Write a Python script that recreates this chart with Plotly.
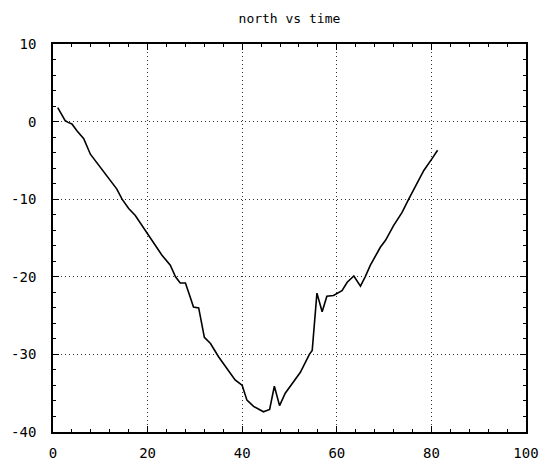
import plotly.graph_objects as go

# northward displacement sampled over time
time = [1.0, 1.7, 2.6, 3.2, 4.0, 5.1, 6.5, 7.9, 10.0, 11.8, 13.5, 14.6, 16.0, 17.4,
        18.8, 20.6, 21.6, 23.0, 24.8, 25.9, 26.9, 28.0, 29.0, 29.7, 30.8, 31.5,
        32.0, 33.3, 35.0, 36.5, 38.5, 39.6, 40.0, 41.0, 42.4, 44.5, 45.8, 46.8,
        47.9, 49.1, 52.3, 54.2, 54.8, 55.8, 56.9, 57.9, 59.3, 61.1, 62.2, 63.6,
        65.0, 66.0, 67.1, 69.2, 70.3, 72.0, 73.8, 75.2, 76.6, 78.4, 80.1, 81.3]
north = [1.8, 1.0, 0.1, -0.1, -0.3, -1.2, -2.2, -4.2, -5.9, -7.4, -8.7, -10.0,
         -11.2, -12.1, -13.4, -14.9, -16.0, -17.2, -18.5, -20.0, -20.8, -20.8,
         -22.6, -23.9, -24.0, -26.0, -27.8, -28.6, -30.3, -31.6, -33.3, -33.8,
         -34.0, -35.9, -36.7, -37.4, -37.1, -34.1, -36.6, -35.0, -32.3, -30.0,
         -29.5, -22.1, -24.5, -22.5, -22.4, -21.8, -20.7, -19.9, -21.2, -20.0,
         -18.5, -16.2, -15.3, -13.4, -11.7, -10.0, -8.3, -6.3, -4.8, -3.7]

x_ticks = [0, 20, 40, 60, 80, 100]
y_ticks = [-40, -30, -20, -10, 0, 10]

FONT = "DejaVu Sans Mono"

fig = go.Figure()
fig.add_trace(go.Scatter(x=time, y=north, mode="lines",
                         line=dict(color="black", width=1.6),
                         showlegend=False))

axis_common = dict(
    showline=True, linecolor="black", linewidth=1.6, mirror="allticks",
    ticks="inside", ticklen=6, tickcolor="black", tickwidth=1.2,
    showgrid=True, gridcolor="#333333", griddash="1px,3px", gridwidth=1,
    zeroline=False, automargin=False,
    tickfont=dict(family=FONT, size=14, color="black"),
)

fig.update_xaxes(range=[0, 100], tickvals=x_ticks, ticktext=[str(v) for v in x_ticks],
                 minor=dict(dtick=4, tick0=0, ticks="inside", ticklen=3,
                            tickcolor="black", showgrid=False),
                 ticklabelstandoff=7,
                 **axis_common)
fig.update_yaxes(range=[-40, 10], tickvals=y_ticks, ticktext=[str(v) for v in y_ticks],
                 minor=dict(dtick=2, tick0=0, ticks="inside", ticklen=3,
                            tickcolor="black", showgrid=False),
                 ticklabelstandoff=12,
                 **axis_common)

fig.update_layout(
    width=540, height=464,
    margin=dict(l=53, r=14, t=44, b=32),
    paper_bgcolor="white", plot_bgcolor="white",
    title=dict(text="north vs time", x=0.536, xanchor="center",
               y=1 - 18 / 464, yanchor="middle",
               font=dict(family=FONT, size=13, color="black")),
)

fig.write_html("out.html")
